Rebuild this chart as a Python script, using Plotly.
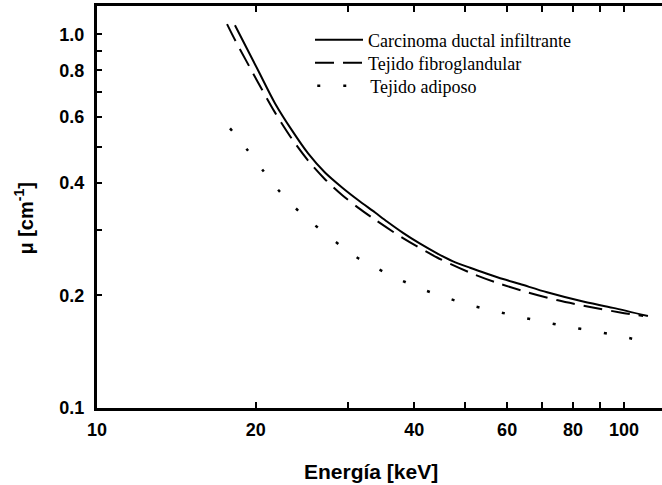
import plotly.graph_objects as go

# Linear attenuation coefficient vs photon energy for three breast tissues
energy_carcinoma = [18.27, 20.21, 21.77, 23.44, 25.15, 27.07, 29.17, 31.28, 33.70, 35.50, 38.07, 41.02,
                    44.18, 47.37, 51.04, 54.96, 58.94, 63.49, 71.44, 82.5, 95.3, 111.0]
mu_carcinoma = [1.057, 0.801, 0.653, 0.553, 0.480, 0.4266, 0.389, 0.360, 0.3333, 0.3154, 0.2941, 0.2751,
                0.2593, 0.2468, 0.2372, 0.2287, 0.2213, 0.2146, 0.2040, 0.1936, 0.1853, 0.1762]

energy_fibro = [17.65, 18.2, 20.21, 21.77, 23.44, 25.15, 27.07, 29.17, 31.28, 33.70, 38.07, 44.18,
                51.04, 57.4, 65.4, 74.9, 86.2, 98.3, 108.7]
mu_fibro = [1.064, 0.976, 0.743, 0.617, 0.5245, 0.4592, 0.4094, 0.3716, 0.3436, 0.3190, 0.2847, 0.2527,
            0.2301, 0.2162, 0.2042, 0.1941, 0.1862, 0.1802, 0.1762]

energy_adipose = [17.88, 19.26, 20.65, 22.05, 23.75, 25.7, 30.74, 33.8, 37.26, 41.2, 45.5, 50.8, 56.7,
                  63.2, 70.5, 78.3, 87.3, 97.4, 108.7]
mu_adipose = [0.560, 0.4916, 0.432, 0.384, 0.3437, 0.3113, 0.2556, 0.2372, 0.2217, 0.2084, 0.1984,
              0.1888, 0.182, 0.1754, 0.170, 0.1649, 0.1609, 0.156, 0.1512]

series_names = ["Carcinoma ductal infiltrante", "Tejido fibroglandular", "Tejido adiposo"]

x_tick_vals = [10, 20, 30, 40, 50, 60, 70, 80, 90, 100]
x_tick_text = ["10", "20", "", "40", "", "60", "", "80", "", "100"]
y_tick_vals = [0.1, 0.2, 0.3, 0.4, 0.5, 0.6, 0.7, 0.8, 0.9, 1.0]
y_tick_text = ["0.1", "0.2", "", "0.4", "", "0.6", "", "0.8", "", "1.0"]

fig = go.Figure()
fig.add_trace(go.Scatter(x=energy_carcinoma, y=mu_carcinoma, mode="lines", name=series_names[0],
                         legend="legend",
                         line=dict(color="black", width=2, shape="spline", smoothing=0.8)))
fig.add_trace(go.Scatter(x=energy_fibro, y=mu_fibro, mode="lines", name=series_names[1],
                         legend="legend2",
                         line=dict(color="black", width=2, dash="19px,9px", shape="spline", smoothing=0.8)))
fig.add_trace(go.Scatter(x=energy_adipose, y=mu_adipose, mode="lines", name=series_names[2],
                         legend="legend3",
                         line=dict(color="black", width=2.5, dash="3px,23px", shape="spline", smoothing=0.8)))

tick_font = dict(family="Liberation Sans, Arial, sans-serif", size=18, color="black", weight="bold")

fig.update_xaxes(type="log", range=[1, 2.072], tickvals=x_tick_vals, ticktext=x_tick_text,
                 ticks="inside", ticklen=6, tickwidth=2, tickcolor="black",
                 showline=True, linewidth=3, linecolor="black", mirror="ticks",
                 showgrid=False, zeroline=False, tickfont=tick_font, ticklabelstandoff=3)
fig.update_yaxes(type="log", range=[-1, 0.0755], tickvals=y_tick_vals, ticktext=y_tick_text,
                 ticks="inside", ticklen=5, tickwidth=2, tickcolor="black",
                 showline=True, linewidth=3, linecolor="black", mirror=False,
                 showgrid=False, zeroline=False, tickfont=tick_font, ticklabelstandoff=6)

fig.add_annotation(text="Energía [keV]", xref="paper", yref="paper", x=0.485, y=-0.159,
                   xanchor="center", yanchor="middle", showarrow=False,
                   font=dict(family="Liberation Sans, Arial, sans-serif", size=21, color="black", weight="bold"))
fig.add_annotation(text="μ [cm<sup>-1</sup>]", xref="paper", yref="paper", x=-0.13, y=0.47,
                   xanchor="center", yanchor="middle", textangle=-90, showarrow=False,
                   font=dict(family="Liberation Sans, Arial, sans-serif", size=20, color="black", weight="bold"))

legend_font = dict(family="Liberation Serif, Times New Roman, serif", size=18, color="black")
legend_common = dict(xanchor="left", yanchor="middle", bgcolor="rgba(0,0,0,0)",
                     font=legend_font, itemwidth=48)

fig.update_layout(
    width=662, height=485,
    margin=dict(l=97, r=0, t=6, b=77),
    plot_bgcolor="white", paper_bgcolor="white",
    showlegend=True,
    legend=dict(x=0.377, y=0.9154, **legend_common),
    legend2=dict(x=0.377, y=0.8582, **legend_common),
    legend3=dict(x=0.381, y=0.801, **legend_common),
)

fig.write_html("out.html")
